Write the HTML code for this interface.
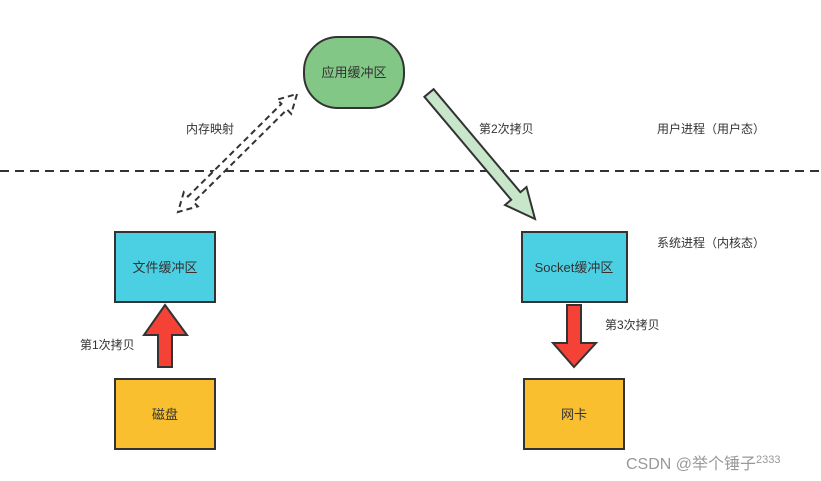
<!DOCTYPE html>
<html><head><meta charset="utf-8"><style>
html,body{margin:0;padding:0;background:#fff;}
svg{display:block;font-family:"Liberation Sans","Noto Sans CJK SC",sans-serif;}
</style></head><body>
<svg width="821" height="481" viewBox="0 0 821 481" xmlns="http://www.w3.org/2000/svg">
<line x1="0" y1="171" x2="821" y2="171" stroke="#333" stroke-width="2" stroke-dasharray="9,6"/>
<rect x="304" y="37" width="100" height="71" rx="34" ry="34" fill="#82c785" stroke="#333" stroke-width="2"/>
<text x="354" y="77" font-size="13" text-anchor="middle" fill="#333">应用缓冲区</text>
<rect x="115" y="232" width="100" height="70" fill="#4bd0e3" stroke="#333" stroke-width="2"/>
<text x="165" y="272" font-size="13" text-anchor="middle" fill="#333">文件缓冲区</text>
<rect x="522" y="232" width="105" height="70" fill="#4bd0e3" stroke="#333" stroke-width="2"/>
<text x="574" y="272" font-size="13" text-anchor="middle" fill="#333">Socket缓冲区</text>
<rect x="115" y="379" width="100" height="70" fill="#f9bf2e" stroke="#333" stroke-width="2"/>
<text x="165" y="419" font-size="13" text-anchor="middle" fill="#333">磁盘</text>
<rect x="524" y="379" width="100" height="70" fill="#f9bf2e" stroke="#333" stroke-width="2"/>
<text x="574" y="419" font-size="13" text-anchor="middle" fill="#333">网卡</text>
<polygon points="424.4,96.8 511.2,199.8 505,205 535,219 526.5,187 520.4,192.2 433.6,89.2" fill="#c8e6c9" stroke="#333" stroke-width="2" stroke-linejoin="miter"/>
<polygon points="297,94 291.2,113.8 287,109.5 193.6,202.1 197.8,206.4 178,212 183.8,192.2 188,196.5 281.4,103.9 277.2,99.6" fill="#fff" stroke="#333" stroke-width="2" stroke-dasharray="6,4"/>
<polygon points="158,367 172,367 172,335 187,335 165,305 144,335 158,335" fill="#f44336" stroke="#333" stroke-width="2"/>
<polygon points="567,305 581,305 581,343 596,343 574,367 553,343 567,343" fill="#f44336" stroke="#333" stroke-width="2"/>
<g font-size="12" fill="#333">
<text x="186" y="133">内存映射</text>
<text x="479" y="133">第2次拷贝</text>
<text x="657" y="133">用户进程（用户态）</text>
<text x="657" y="247">系统进程（内核态）</text>
<text x="80" y="349">第1次拷贝</text>
<text x="605" y="329">第3次拷贝</text>
</g>
<text x="626" y="469" font-size="16" fill="#999">CSDN @举个锤子<tspan font-size="11" dy="-6">2333</tspan></text>
</svg>
</body></html>
